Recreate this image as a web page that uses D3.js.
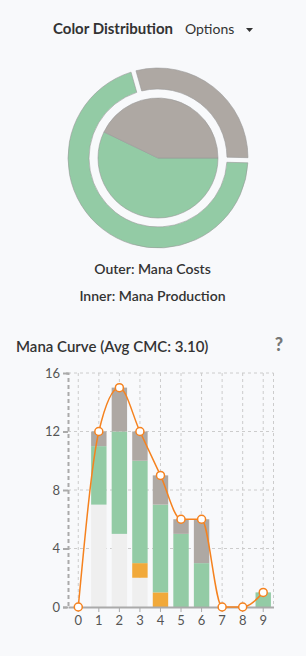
<!DOCTYPE html>
<html>
<head>
<meta charset="utf-8">
<script src="https://cdn.jsdelivr.net/npm/d3@7"></script>
<style>
  body { margin: 0; background: #f8f9fb; font-family: Lato, "Open Sans", sans-serif; }
  svg text { fill: #333; }
</style>
</head>
<body>
<div id="chart"></div>
<script>
// colour distribution (symbol counts)
const pieColors = ['G', 'C'];
const outerCounts = [33, 14];   // mana costs
const innerCounts = [16, 12];   // mana production

// mana curve
const cmcs = [0, 1, 2, 3, 4, 5, 6, 7, 8, 9];
const colorless = [0, 7, 5, 2, 0, 0, 0, 0, 0, 0];
const orange = [0, 0, 0, 1, 1, 0, 0, 0, 0, 0];
const green = [0, 4, 7, 7, 6, 5, 3, 0, 0, 1];
const gray = [0, 1, 3, 2, 2, 1, 3, 0, 0, 0];
const yTicks = [0, 4, 8, 12, 16];

const fill = {G: '#93cba5', C: '#aea8a3'};

const svg = d3.select('#chart')
  .append('svg')
  .attr('width', 306)
  .attr('height', 656);

// ---- header
svg.append('text').attr('x', 53).attr('y', 34)
  .style('font-size', '15px').style('font-weight', 'bold')
  .text('Color Distribution');
svg.append('text').attr('x', 185).attr('y', 34)
  .style('font-size', '14px')
  .text('Options');
svg.append('path').attr('d', 'M246,28 L253,28 L249.5,32 Z').attr('fill', '#333');

// ---- pies
const pieG = svg.append('g').attr('transform', 'translate(158,158)');

const outerPie = d3.pie().sort(null)
  .startAngle(Math.PI / 2 + 0.025)
  .endAngle(Math.PI / 2 + 0.025 + 2 * Math.PI);
const innerPie = d3.pie().sort(null)
  .startAngle(Math.PI / 2)
  .endAngle(Math.PI / 2 + 2 * Math.PI);

const outerArc = d3.arc().innerRadius(69).outerRadius(90).padAngle(0.045);
const innerArc = d3.arc().innerRadius(0).outerRadius(60);

pieG.selectAll('path.outer')
  .data(outerPie(outerCounts))
  .enter().append('path')
  .attr('class', 'outer')
  .attr('d', outerArc)
  .attr('fill', (d, i) => fill[pieColors[i]])
  .attr('stroke', '#999')
  .attr('stroke-width', 0.6);

pieG.selectAll('path.inner')
  .data(innerPie(innerCounts))
  .enter().append('path')
  .attr('class', 'inner')
  .attr('d', innerArc)
  .attr('fill', (d, i) => fill[pieColors[i]])
  .attr('stroke', '#999')
  .attr('stroke-width', 0.6);

svg.append('text').attr('x', 152.5).attr('y', 274).attr('text-anchor', 'middle')
  .style('font-size', '14px').style('font-weight', 600)
  .text('Outer: Mana Costs');
svg.append('text').attr('x', 152.5).attr('y', 301).attr('text-anchor', 'middle')
  .style('font-size', '14px').style('font-weight', 600)
  .text('Inner: Mana Production');

// ---- mana curve
svg.append('text').attr('x', 16).attr('y', 352)
  .style('font-size', '15px').style('font-weight', 600)
  .text('Mana Curve (Avg CMC: 3.10)');
svg.append('text').attr('x', 279).attr('y', 351).attr('text-anchor', 'middle')
  .style('font-size', '18px').style('font-weight', 900)
  .style('fill', '#777')
  .text('?');

const plotLeft = 68, plotRight = 273.5, plotTop = 373, plotBottom = 607;

const x = d3.scaleBand().domain(cmcs).range([plotLeft, plotRight])
  .paddingInner(0.25).paddingOuter(0.125);
const y = d3.scaleLinear().domain([0, 16]).range([plotBottom, plotTop]);

const chart = svg.append('g');

// grid
chart.selectAll('line.hgrid')
  .data(yTicks.slice(1))
  .enter().append('line')
  .attr('x1', plotLeft).attr('x2', plotRight)
  .attr('y1', d => y(d)).attr('y2', d => y(d))
  .attr('stroke', '#ccc').attr('stroke-dasharray', '3,3');
chart.selectAll('line.vgrid')
  .data(cmcs)
  .enter().append('line')
  .attr('x1', d => x(d) + x.bandwidth() / 2).attr('x2', d => x(d) + x.bandwidth() / 2)
  .attr('y1', plotTop).attr('y2', plotBottom)
  .attr('stroke', '#ccc').attr('stroke-dasharray', '3,3');
chart.append('line')
  .attr('x1', plotRight).attr('x2', plotRight).attr('y1', plotTop).attr('y2', plotBottom)
  .attr('stroke', '#ccc').attr('stroke-dasharray', '3,3');

// stacked bars
const rows = cmcs.map((c, i) => ({cmc: c, colorless: colorless[i], orange: orange[i], green: green[i], gray: gray[i]}));
const keys = ['colorless', 'orange', 'green', 'gray'];
const barColors = {colorless: '#efefef', orange: '#f1a93a', green: '#93cba5', gray: '#aea8a3'};
const stacked = d3.stack().keys(keys)(rows);

chart.selectAll('g.layer')
  .data(stacked)
  .enter().append('g')
  .attr('fill', d => barColors[d.key])
  .selectAll('rect')
  .data(d => d)
  .enter().append('rect')
  .attr('x', d => x(d.data.cmc))
  .attr('width', x.bandwidth())
  .attr('y', d => y(d[1]))
  .attr('height', d => y(d[0]) - y(d[1]));

// axes
const yAxis = chart.append('g')
  .attr('transform', `translate(${plotLeft},0)`)
  .call(d3.axisLeft(y).tickValues(yTicks).tickSizeInner(5).tickSizeOuter(5).tickPadding(3));
yAxis.select('.domain').attr('stroke', '#aaa').attr('stroke-width', 2).attr('stroke-dasharray', '4,3');
yAxis.selectAll('.tick line').attr('stroke', '#aaa').attr('stroke-width', 2);
yAxis.selectAll('.tick text').style('font-size', '13px').style('font-family', 'Lato').style('fill', '#555');

const xAxis = chart.append('g')
  .attr('transform', `translate(0,${plotBottom})`)
  .call(d3.axisBottom(x).tickSizeInner(5).tickSizeOuter(0).tickPadding(4));
xAxis.select('.domain').attr('stroke', '#aaa').attr('stroke-width', 2);
xAxis.selectAll('.tick line').attr('stroke', '#aaa').attr('stroke-width', 1);
xAxis.selectAll('.tick text').style('font-size', '13px').style('font-family', 'Lato').style('fill', '#555');

// total line
const totals = rows.map(r => r.colorless + r.orange + r.green + r.gray);
const pts = cmcs.map((c, i) => [x(c) + x.bandwidth() / 2, y(totals[i])]);

chart.append('path')
  .attr('d', d3.line().curve(d3.curveMonotoneX)(pts))
  .attr('fill', 'none')
  .attr('stroke', '#f5821f')
  .attr('stroke-width', 1.5);

chart.selectAll('circle.pt')
  .data(pts)
  .enter().append('circle')
  .attr('cx', d => d[0]).attr('cy', d => d[1])
  .attr('r', 4)
  .attr('fill', '#fff')
  .attr('stroke', '#f5821f')
  .attr('stroke-width', 1.5);
</script>
</body>
</html>
